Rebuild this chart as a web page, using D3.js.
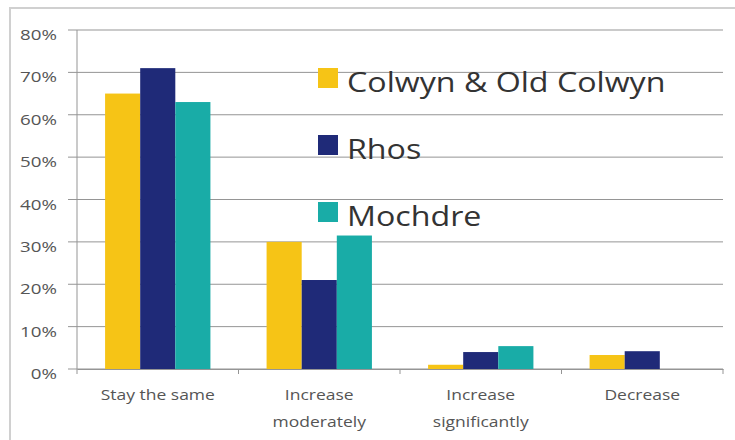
<!DOCTYPE html>
<html>
<head>
<meta charset="utf-8">
<script src="https://cdn.jsdelivr.net/npm/d3@7"></script>
<style>
  body { margin: 0; background: #fff; }
  svg { display: block; font-family: "Open Sans", "DejaVu Sans", sans-serif; }
</style>
</head>
<body>
<div id="chart"></div>
<script>
// 数据
const categories = ["Stay the same", "Increase moderately", "Increase significantly", "Decrease"];
const categoryLines = [["Stay the same"], ["Increase", "moderately"], ["Increase", "significantly"], ["Decrease"]];
const seriesNames = ["Colwyn & Old Colwyn", "Rhos", "Mochdre"];
const colwyn = [65, 30, 1, 3.3];
const rhos = [71, 21, 4, 4.2];
const mochdre = [63, 31.5, 5.4, 0];
const yTicks = [0, 10, 20, 30, 40, 50, 60, 70, 80];
const colors = ["#f6c416", "#1f2a78", "#19aca7"];

const width = 735, height = 440;
const margin = { top: 30, right: 12, bottom: 71, left: 77 };

const svg = d3.select("#chart").append("svg")
    .attr("width", width)
    .attr("height", height);

// 外框
svg.append("path")
    .attr("d", `M10,${height} L10,8 L${width},8`)
    .attr("fill", "none")
    .attr("stroke", "#d0d0d0")
    .attr("stroke-width", 2);

const x0 = d3.scaleBand()
    .domain(categories)
    .range([margin.left, width - margin.right]);

const x1 = d3.scaleBand()
    .domain(seriesNames)
    .range([0, x0.bandwidth()])
    .paddingOuter(0.8);

const y = d3.scaleLinear()
    .domain([0, 80])
    .range([height - margin.bottom, margin.top]);

// 网格线
svg.append("g")
    .selectAll("line")
    .data(yTicks)
    .join("line")
    .attr("x1", margin.left - 9)
    .attr("x2", width - margin.right)
    .attr("y1", d => y(d))
    .attr("y2", d => y(d))
    .attr("stroke", "#959595")
    .attr("stroke-width", 1);

// y 轴
svg.append("line")
    .attr("x1", margin.left).attr("x2", margin.left)
    .attr("y1", y(80)).attr("y2", y(0))
    .attr("stroke", "#959595");

svg.append("g")
    .selectAll("text")
    .data(yTicks)
    .join("text")
    .attr("transform", d => `translate(57,${y(d) + 10}) scale(1.25,1)`)
    .attr("text-anchor", "end")
    .attr("font-size", 15)
    .attr("fill", "#555")
    .text(d => d + "%");

// 柱子
const data = categories.map((c, i) => ({
    category: c,
    values: [colwyn[i], rhos[i], mochdre[i]]
}));

const groups = svg.append("g")
    .selectAll("g")
    .data(data)
    .join("g")
    .attr("transform", d => `translate(${x0(d.category)},0)`);

groups.selectAll("rect")
    .data(d => d.values.map((v, j) => ({ name: seriesNames[j], value: v, j })))
    .join("rect")
    .attr("x", d => x1(d.name))
    .attr("width", x1.bandwidth())
    .attr("y", d => y(d.value))
    .attr("height", d => y(0) - y(d.value))
    .attr("fill", d => colors[d.j]);

// x 轴
svg.append("g")
    .attr("transform", `translate(0,${y(0)})`)
    .call(d3.axisBottom(x0).tickSize(0).tickFormat(""))
    .call(g => g.select(".domain").attr("stroke", "#959595"));

svg.append("g")
    .selectAll("line")
    .data(d3.range(categories.length + 1))
    .join("line")
    .attr("x1", i => margin.left + i * x0.step())
    .attr("x2", i => margin.left + i * x0.step())
    .attr("y1", y(0))
    .attr("y2", y(0) + 5)
    .attr("stroke", "#959595");

svg.append("g")
    .selectAll("g")
    .data(categories)
    .join("g")
    .attr("transform", d => `translate(${x0(d) + x0.bandwidth() / 2},${y(0) + 31}) scale(1.25,1)`)
    .each(function(d, i) {
        d3.select(this).selectAll("text")
            .data(categoryLines[i])
            .join("text")
            .attr("y", (t, k) => k * 27)
            .attr("text-anchor", "middle")
            .attr("font-size", 14)
            .attr("fill", "#555")
            .text(t => t);
    });

// 图例
const legend = svg.append("g")
    .selectAll("g")
    .data(seriesNames)
    .join("g")
    .attr("transform", (d, i) => `translate(318,${68 + i * 67})`);

legend.append("rect")
    .attr("width", 20)
    .attr("height", 20)
    .attr("fill", (d, i) => colors[i]);

legend.append("text")
    .attr("transform", "translate(29,23.5) scale(1.15,1)")
    .attr("font-size", 28)
    .attr("fill", "#333")
    .text(d => d);
</script>
</body>
</html>
